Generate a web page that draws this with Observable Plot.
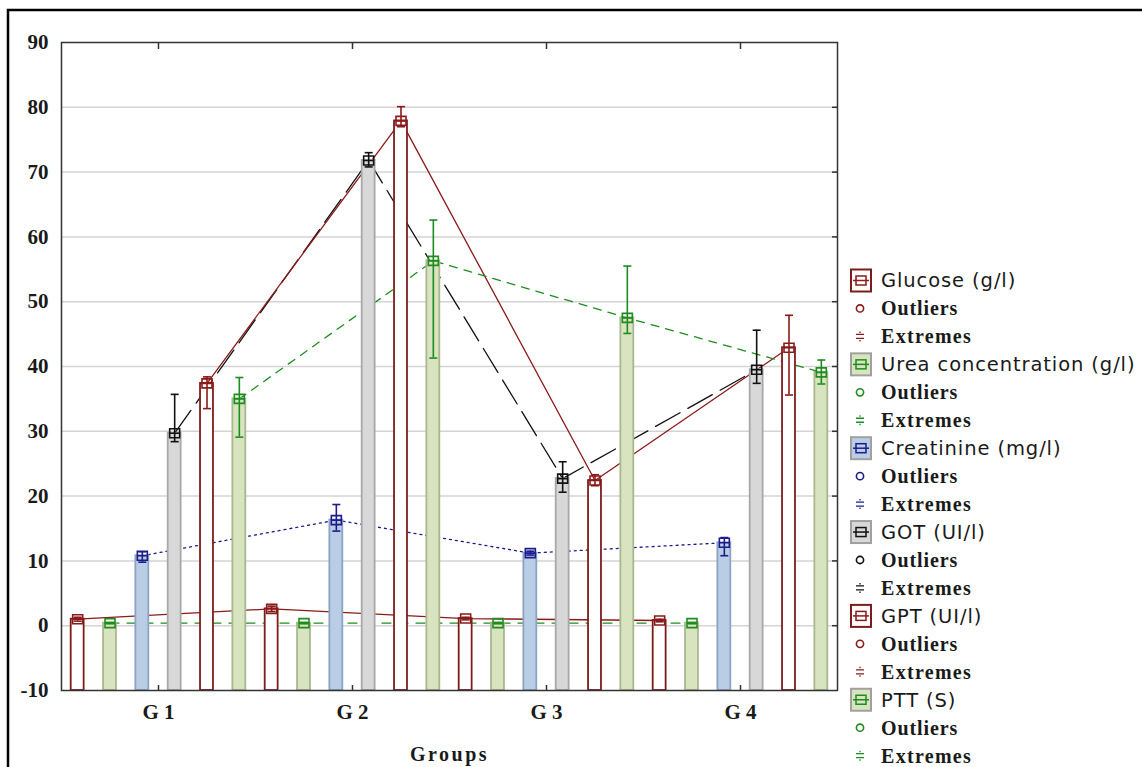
<!DOCTYPE html>
<html>
<head>
<meta charset="utf-8">
<script src="https://cdn.jsdelivr.net/npm/d3@7"></script>
<script src="https://cdn.jsdelivr.net/npm/@observablehq/plot@0.6"></script>
<style>
  html, body { margin: 0; padding: 0; background: #fff; }
  #chart svg { display: block; }
</style>
</head>
<body>
<div id="chart"></div>
<script>
// ---- data ----
const groups = ["G1", "G2", "G3", "G4"];
const series = ["Glucose (g/l)", "Urea concentration (g/l)", "Creatinine (mg/l)", "GOT (UI/l)", "GPT (UI/l)", "PTT (S)"];
const yTicks = [-10, 0, 10, 20, 30, 40, 50, 60, 70, 80, 90];

const glucose      = [1.0, 2.6, 1.1, 0.8];
const glucoseLo    = [0.7, 2.2, 0.9, 0.6];
const glucoseHi    = [1.3, 3.0, 1.3, 1.0];
const urea         = [0.4, 0.4, 0.4, 0.4];
const ureaLo       = [0.3, 0.3, 0.3, 0.3];
const ureaHi       = [0.5, 0.5, 0.5, 0.5];
const creatinine   = [10.8, 16.3, 11.2, 12.8];
const creatinineLo = [9.8, 14.6, 10.9, 10.8];
const creatinineHi = [11.4, 18.7, 11.5, 13.6];
const got          = [29.7, 71.8, 22.7, 39.5];
const gotLo        = [28.4, 70.8, 20.6, 37.4];
const gotHi        = [35.7, 73.0, 25.3, 45.6];
const gpt          = [37.4, 77.9, 22.4, 42.9];
const gptLo        = [33.5, 77.0, 21.6, 35.6];
const gptHi        = [38.4, 80.1, 23.3, 47.9];
const ptt          = [35.0, 56.3, 47.5, 39.1];
const pttLo        = [29.1, 41.3, 45.1, 37.3];
const pttHi        = [38.3, 62.6, 55.5, 41.0];

const means = [glucose, urea, creatinine, got, gpt, ptt];
const lows  = [glucoseLo, ureaLo, creatinineLo, gotLo, gptLo, pttLo];
const highs = [glucoseHi, ureaHi, creatinineHi, gotHi, gptHi, pttHi];

// ---- styles ----
const styles = [
  {fill: "#ffffff", stroke: "#7e1c1c", mark: "#8b1a1a", dash: null},
  {fill: "#d8e4bf", stroke: "#a9b78f", mark: "#1e8c1e", dash: "9,8"},
  {fill: "#b9cde5", stroke: "#8ca3c3", mark: "#1c1c8c", dash: "2,4"},
  {fill: "#d8d8d8", stroke: "#a8a8a8", mark: "#111111", dash: "28,9"},
  {fill: "#ffffff", stroke: "#7e1c1c", mark: "#8b1a1a", dash: null},
  {fill: "#d8e4bf", stroke: "#a9b78f", mark: "#1e8c1e", dash: "8,7"}
];

const rows = [];
groups.forEach((g, gi) => series.forEach((s, si) => rows.push({
  group: g, series: s, si, pos: gi * 6 + si + 0.5,
  mean: means[si][gi], lo: lows[si][gi], hi: highs[si][gi]
})));
const caps = rows.flatMap(d => [{...d, v: d.lo}, {...d, v: d.hi}]);
const groupCenters = groups.map((g, gi) => gi * 6 + 3);

const capSymbol = {draw(ctx) { ctx.moveTo(-4, 0); ctx.lineTo(4, 0); }};
const meanSymbol = {draw(ctx) { ctx.rect(-5, -4.5, 10, 9); ctx.moveTo(-5, 0); ctx.lineTo(5, 0); }};

const serif = "'Liberation Serif', 'Times New Roman', serif";

const lineMarks = series.map((s, si) => Plot.line(rows.filter(d => d.si === si), {
  x: "pos", y: "mean", stroke: styles[si].mark, strokeWidth: 1.3,
  strokeDasharray: styles[si].dash
}));

const svg = Plot.plot({
  width: 1142, height: 767,
  marginLeft: 61, marginRight: 305, marginTop: 42, marginBottom: 77,
  style: {fontFamily: serif, background: "#fff"},
  x: {type: "linear", domain: [0, 24], axis: null, label: null},
  y: {domain: [-10, 90], axis: null, label: null},
  color: {type: "identity"},
  marks: [
    Plot.gridY(yTicks.slice(1, -1), {stroke: "#d4d4d4", strokeOpacity: 1, strokeWidth: 1.5}),
    ...lineMarks,
    Plot.rectY(rows, {
      x1: d => d.pos - 0.2, x2: d => d.pos + 0.2, y1: -10, y2: "mean",
      fill: d => styles[d.si].fill, stroke: d => styles[d.si].stroke, strokeWidth: 1.8
    }),
    Plot.ruleX(rows, {x: "pos", y1: "lo", y2: "hi", stroke: d => styles[d.si].mark, strokeWidth: 1.6}),
    Plot.dot(caps, {x: "pos", y: "v", symbol: capSymbol, fill: "none", stroke: d => styles[d.si].mark, strokeWidth: 1.6}),
    Plot.dot(rows, {x: "pos", y: "mean", symbol: meanSymbol, fill: "none", stroke: d => styles[d.si].mark, strokeWidth: 1.6}),
    Plot.frame({stroke: "#333", strokeWidth: 1.5}),
    Plot.axisY(yTicks, {anchor: "left", label: null, tickSize: 0, tickPadding: 13, tickFormat: d => String(d),
      fontSize: 21, fontWeight: "bold", fontFamily: serif, fill: "#1a1a1a"}),
    Plot.axisY(yTicks.slice(1, -1), {anchor: "right", label: null, tickSize: -6, tickFormat: () => "", stroke: "#333", strokeWidth: 1.5}),
    Plot.axisX(groupCenters, {anchor: "top", label: null, tickSize: -6, tickFormat: () => "", stroke: "#333", strokeWidth: 1.5}),
    Plot.axisX(groupCenters, {anchor: "bottom", label: null, tickSize: -5, tickFormat: () => "", stroke: "#333", strokeWidth: 1.5}),
    Plot.axisX(groupCenters, {anchor: "bottom", label: null, tickSize: 0, tickPadding: 14,
      tickFormat: v => groups[(v - 3) / 6].split("").join(" "),
      fontSize: 21, fontWeight: "bold", fontFamily: serif, fill: "#1a1a1a"}),
    Plot.text(["Groups"], {frameAnchor: "bottom", dy: 64, fontSize: 20, fontWeight: "bold",
      fontFamily: serif, fill: "#1a1a1a", lineAnchor: "middle"})
  ]
});

// ---- outer frame & legend ----
const s = d3.select(svg);
s.selectAll("text").filter(function() { return this.textContent === "Groups"; })
  .attr("letter-spacing", "2.5px");
s.append("path").attr("d", "M8,767V10H1142").attr("fill", "none").attr("stroke", "#000").attr("stroke-width", 2.5);

const lg = s.append("g").attr("text-anchor", "start");
const sans = "'DejaVu Sans', Verdana, sans-serif";
const y0 = 280.5, step = 27.95;
series.forEach((name, si) => {
  const st = styles[si];
  const yc = y0 + si * 3 * step;
  // series box
  lg.append("rect").attr("x", 851).attr("y", yc - 11).attr("width", 20).attr("height", 22)
    .attr("fill", st.fill).attr("stroke", st.fill === "#ffffff" ? st.stroke : "#a0a0a0").attr("stroke-width", 2);
  lg.append("rect").attr("x", 856).attr("y", yc - 4.5).attr("width", 10).attr("height", 9)
    .attr("fill", "none").attr("stroke", st.mark).attr("stroke-width", 1.5);
  lg.append("line").attr("x1", 853).attr("x2", 869).attr("y1", yc).attr("y2", yc)
    .attr("stroke", st.mark).attr("stroke-width", 1.5);
  lg.append("text").attr("x", 881).attr("y", yc).attr("dy", "0.35em")
    .attr("style", `font-family:${sans};font-size:19.5px;font-weight:normal;letter-spacing:0.9px;text-anchor:start`).attr("fill", "#1a1a1a").text(name);
  // outliers
  const yo = yc + step;
  lg.append("circle").attr("cx", 860).attr("cy", yo).attr("r", 3.6)
    .attr("fill", "none").attr("stroke", st.mark).attr("stroke-width", 1.6);
  lg.append("text").attr("x", 881).attr("y", yo).attr("dy", "0.35em")
    .attr("style", `font-family:${serif};font-size:20px;font-weight:bold;letter-spacing:0.9px;text-anchor:start`).attr("fill", "#1a1a1a").text("Outliers");
  // extremes
  const ye = yc + 2 * step;
  lg.append("path").attr("d", `M856,${ye - 2}h8M856,${ye + 2}h8M860,${ye - 5}v1.5M860,${ye + 3.5}v1.5`)
    .attr("fill", "none").attr("stroke", st.mark).attr("stroke-width", 1.3);
  lg.append("text").attr("x", 881).attr("y", ye).attr("dy", "0.35em")
    .attr("style", `font-family:${serif};font-size:20px;font-weight:bold;letter-spacing:1.3px;text-anchor:start`).attr("fill", "#1a1a1a").text("Extremes");
});

document.getElementById("chart").appendChild(svg);
</script>
</body>
</html>
